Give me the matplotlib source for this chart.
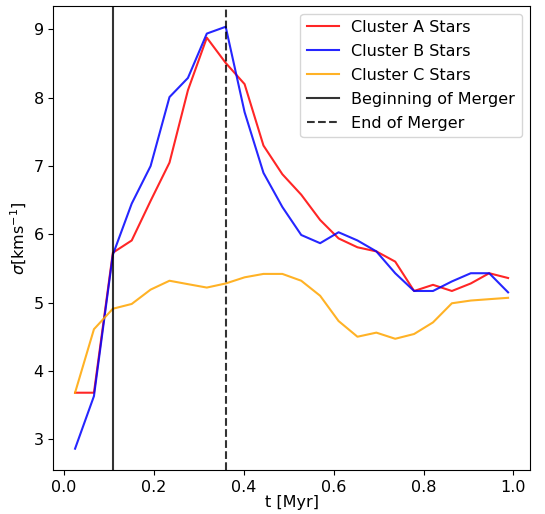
import matplotlib
matplotlib.use("Agg")
import matplotlib.pyplot as plt

t = [0.025, 0.067, 0.109, 0.151, 0.193, 0.235, 0.276, 0.318, 0.360, 0.402,
     0.444, 0.486, 0.528, 0.570, 0.611, 0.653, 0.695, 0.737, 0.779, 0.821,
     0.863, 0.905, 0.946, 0.988]

sigma_a = [3.68, 3.68, 5.73, 5.91, 6.49, 7.05, 8.11, 8.88, 8.51, 8.20,
           7.30, 6.88, 6.58, 6.21, 5.94, 5.81, 5.75, 5.60, 5.17, 5.26,
           5.17, 5.28, 5.43, 5.36]
sigma_b = [2.86, 3.63, 5.70, 6.45, 7.00, 8.01, 8.29, 8.94, 9.04, 7.79,
           6.90, 6.40, 5.99, 5.87, 6.03, 5.91, 5.75, 5.43, 5.17, 5.17,
           5.31, 5.43, 5.43, 5.15]
sigma_c = [3.68, 4.61, 4.91, 4.98, 5.19, 5.32, 5.27, 5.22, 5.28, 5.37,
           5.42, 5.42, 5.32, 5.10, 4.73, 4.50, 4.56, 4.47, 4.54, 4.71,
           4.99, 5.03, 5.05, 5.07]

t_begin = 0.109
t_end = 0.360

plt.rcParams['font.size'] = 11.5
fig = plt.figure(figsize=(5.45, 5.14), dpi=100)
ax = fig.add_axes([0.098, 0.086, 0.874, 0.903])

ax.plot(t, sigma_a, color='red', alpha=0.85, lw=1.5, label='Cluster A Stars')
ax.plot(t, sigma_b, color='blue', alpha=0.85, lw=1.5, label='Cluster B Stars')
ax.plot(t, sigma_c, color='orange', alpha=0.85, lw=1.5, label='Cluster C Stars')
ax.axvline(t_begin, color='black', alpha=0.8, lw=1.5, label='Beginning of Merger')
ax.axvline(t_end, color='black', alpha=0.8, lw=1.5, ls='--', label='End of Merger')

ax.set_xlabel('t [Myr]', labelpad=0)
ax.set_ylabel(r'$\sigma[\mathrm{kms}^{-1}]$', labelpad=3)
ax.legend(loc='upper right', labelspacing=0.56)

fig.savefig('out.png', dpi=100)
